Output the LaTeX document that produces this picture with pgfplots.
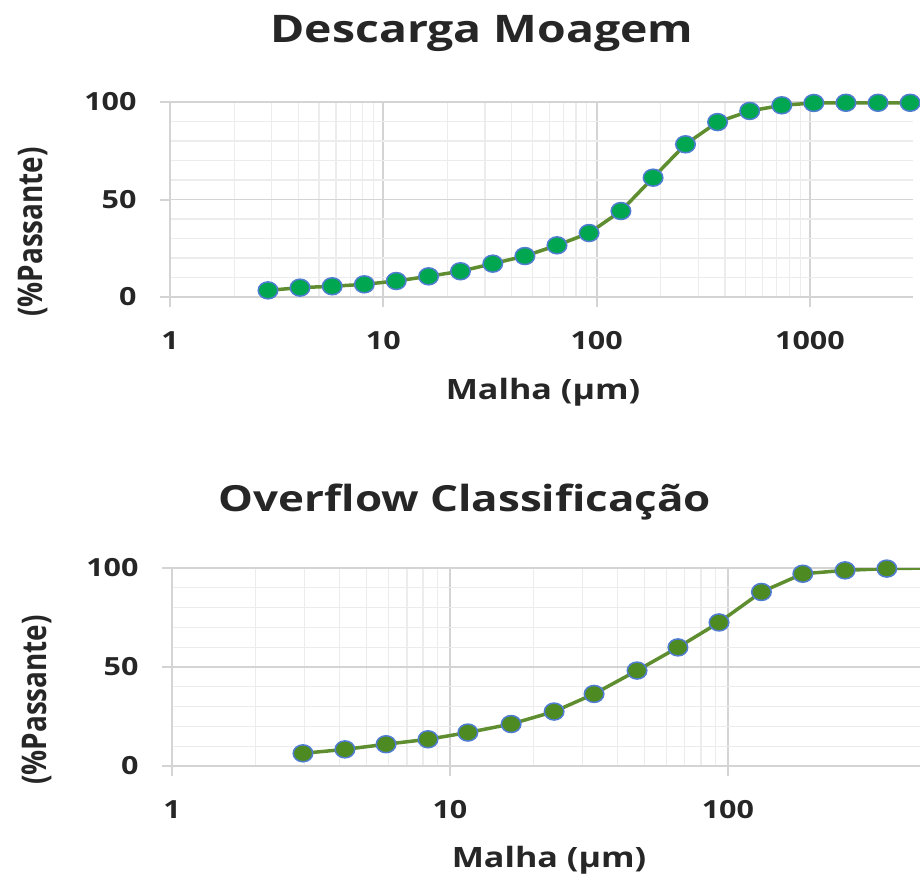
\documentclass[border=0pt]{standalone}
\usepackage{pgfplots}
\pgfplotsset{compat=1.18}
\usepackage{pgfplotstable}
\usepackage{fontspec}
\setmainfont{Open Sans}[FakeStretch=1.22]
\newfontfamily\ylabfont{Open Sans}[FakeStretch=0.82]

\definecolor{lineg}{RGB}{94,142,48}
\definecolor{mkA}{RGB}{0,166,80}
\definecolor{mkB}{RGB}{78,138,34}
\definecolor{mkedge}{RGB}{80,125,210}
\definecolor{gmaj}{RGB}{212,212,212}
\definecolor{gmin}{RGB}{236,236,236}

\pgfplotstableread{
x y
2.88 3.4
4.07 4.8
5.76 5.5
8.15 6.5
11.5 8.2
16.3 10.6
23.0 13.2
32.6 17.1
46.1 21.0
65.2 26.5
92.2 32.8
130 44.1
184 61.2
261 78.3
369 89.7
522 95.4
738 98.3
1043 99.5
1475 99.6
2086 99.6
2950 99.6
}\moagem

\pgfplotstableread{
x y
2.96 6.4
4.19 8.4
5.89 11.0
8.34 13.5
11.6 16.9
16.6 21.2
23.7 27.5
33.0 36.4
47.1 48.2
66.1 59.9
92.9 72.5
132 87.9
186 97.1
264 98.8
373 99.7
528 100
}\overflow

\begin{document}
\begin{tikzpicture}
\pgfplotsset{
  every axis/.append style={
  scale only axis,
  ymin=0, ymax=100, ytick={0,50,100}, yticklabels={0,50,100},
  minor y tick num=4,
  xmajorgrids, xminorgrids, ymajorgrids, yminorgrids,
  major grid style={gmaj, line width=1.8pt},
  minor grid style={gmin, line width=1.2pt},
  axis x line*=bottom, axis y line*=left,
  axis line style={gmaj, line width=2.5pt, -},
  tick align=outside,
  major tick length=10pt, minor tick length=0pt,
  tick style={gmaj, line width=2pt},
  ticklabel style={font=\bfseries\fontsize{25}{28}\selectfont, text=black!85},
  xticklabel style={yshift=-21pt},
  yticklabel style={xshift=-20pt},
  }
}
\path[use as bounding box] (0pt,0pt) rectangle (920pt,-877pt);

% Top chart
\begin{semilogxaxis}[
  at={(170pt,-297pt)}, anchor=south west,
  width=743pt, height=195pt,
  xmin=1, xmax=3043,
  xtick={1,10,100,1000}, xticklabels={1,10,100,1000}]
\addplot[lineg, line width=3.5pt, mark=*, mark size=8.5pt,
  mark options={fill=mkA, draw=mkedge, line width=1.5pt, xscale=1.15}]
  table[x=x,y=y] {\moagem};
\end{semilogxaxis}

% Bottom chart
\begin{semilogxaxis}[
  at={(172pt,-766pt)}, anchor=south west,
  width=748pt, height=198pt,
  xmin=1, xmax=491,
  xtick={1,10,100}, xticklabels={1,10,100}]
\addplot[lineg, line width=3.5pt, mark=*, mark size=8.5pt,
  mark options={fill=mkB, draw=mkedge, line width=1.5pt, xscale=1.15}]
  table[x=x,y=y] {\overflow};
\end{semilogxaxis}

% Titles
\node[anchor=base, font=\bfseries\fontsize{38}{44}\selectfont, text=black!85] at (482pt,-43pt) {Descarga Moagem};
\node[anchor=base, font=\bfseries\fontsize{36}{44}\selectfont, text=black!85] at (465pt,-511pt) {Overflow Classificação};

% Axis labels
\node[anchor=base, font=\bfseries\fontsize{28}{32}\selectfont, text=black!85] at (543pt,-399pt) {Malha (µm)};
\node[anchor=base, font=\bfseries\fontsize{28}{32}\selectfont, text=black!85] at (549pt,-867pt) {Malha (µm)};
\node[rotate=90, font=\ylabfont\bfseries\fontsize{34}{38}\selectfont, text=black!85] at (33pt,-232pt) {(\%Passante)};
\node[rotate=90, font=\ylabfont\bfseries\fontsize{34}{38}\selectfont, text=black!85] at (37pt,-700pt) {(\%Passante)};
\end{tikzpicture}
\end{document}
